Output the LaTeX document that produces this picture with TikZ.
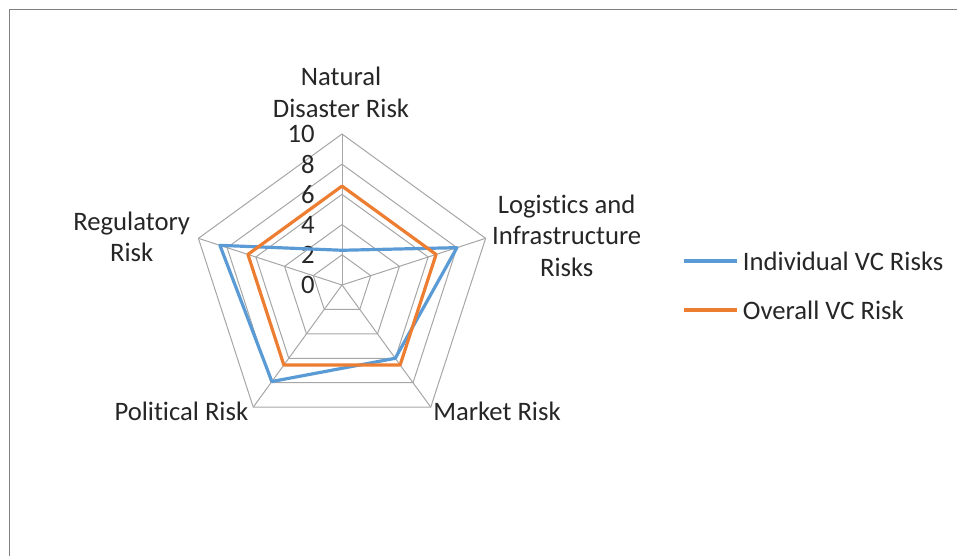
\documentclass[tikz,border=0pt]{standalone}
\usepackage{fontspec}
\setmainfont{Carlito}[Ligatures={NoCommon}]
\usetikzlibrary{positioning}
\definecolor{seriesblue}{HTML}{5B9BD5}
\definecolor{seriesorange}{HTML}{ED7D31}
\definecolor{gridgray}{HTML}{A6A6A6}
\definecolor{textgray}{HTML}{262626}
\tikzset{
  chartfont/.style={font=\fontsize{20}{23.5}\selectfont, text=textgray, inner sep=0pt},
  axislabel/.style={chartfont, align=center},
  ticklabel/.style={chartfont, anchor=east},
  gridline/.style={gridgray, line width=0.75pt},
  series/.style={line width=2.4pt, line join=round},
}

\begin{document}
\begin{tikzpicture}[x=0.75pt, y=-0.75pt]
\useasboundingbox (0,0) rectangle (957,556);
% frame of the chart area
\draw[gray, line width=1.1pt] (957,9.5) -- (9.5,9.5) -- (9.5,556);

\begin{scope}[shift={(342,285)}, y=0.75pt]
  % rings and spokes
  \foreach \r in {2,4,...,10}
    \draw[gridline] (90:{15.1*\r}) -- (18:{15.1*\r}) -- (-54:{15.1*\r})
      -- (-126:{15.1*\r}) -- (162:{15.1*\r}) -- cycle;
  \foreach \a in {90,18,-54,-126,162}
    \draw[gridline] (0,0) -- (\a:151);
  % scale
  \foreach \r in {0,2,...,10}
    \node[ticklabel] (tick\r) at (-27,{15.1*\r}) {\r};
  % data
  \draw[series, seriesblue] (90:{15.1*2.3}) -- (18:{15.1*8}) -- (-54:{15.1*6})
    -- (-126:{15.1*7.9}) -- (162:{15.1*8.5}) -- cycle;
  \draw[series, seriesorange] (90:{15.1*6.55}) -- (18:{15.1*6.55}) -- (-54:{15.1*6.55})
    -- (-126:{15.1*6.55}) -- (162:{15.1*6.55}) -- cycle;
\end{scope}

% axis names
\node[axislabel] (natural) at (341,92.5) {Natural\\Disaster Risk};
\node[axislabel] (logistics) at (566.7,235.7) {Logistics and\\Infrastructure\\Risks};
\node[axislabel, anchor=west] (market) at (433,411.7) {Market Risk};
\node[axislabel, anchor=east] (political) at (248.5,411.7) {Political Risk};
\node[axislabel] (regulatory) at (131.7,236.7) {Regulatory\\Risk};

% legend
\node[chartfont, anchor=west] (indiv) at (742.7,261) {Individual VC Risks};
\node[chartfont, anchor=west] (overall) at (742.7,310) {Overall VC Risk};
\coordinate (indivkey) at (684,261);
\coordinate (overallkey) at (684,310);
\draw[series, seriesblue] (indivkey) -- ([xshift=-4.5pt]indiv.west);
\draw[series, seriesorange] (overallkey) -- ([xshift=-4.5pt]overall.west);
\end{tikzpicture}
\end{document}
